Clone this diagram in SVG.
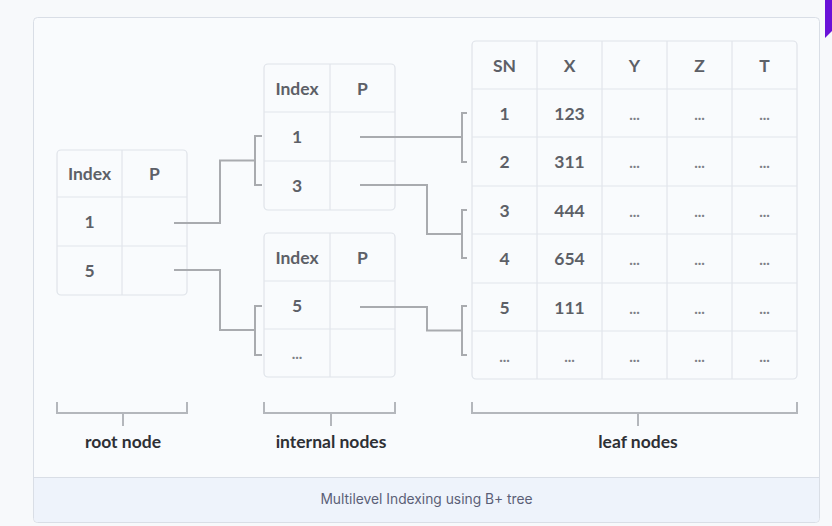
<svg xmlns="http://www.w3.org/2000/svg" width="832" height="526" viewBox="0 0 832 526">
<style>
.tbl{fill:#f9fbfd;stroke:#dfe3e9;stroke-width:1.2}
.grid{stroke:#e1e5eb;stroke-width:1.2;fill:none}
.t{font-family:Lato,"Liberation Sans",sans-serif;font-weight:bold;font-size:17.5px;fill:#5d6067;text-anchor:middle;dominant-baseline:central}
.d{font-family:Lato,"Liberation Sans",sans-serif;font-weight:bold;font-size:15px;fill:#7d8087;text-anchor:middle}
.c{stroke:#a9abaf;stroke-width:2;fill:none}
.b{stroke:#b4b7bc;stroke-width:2;fill:none}
.lbl{font-family:Lato,"Liberation Sans",sans-serif;font-weight:bold;font-size:17.5px;fill:#2e3035;text-anchor:middle}
</style>
<rect x="0" y="0" width="832" height="526" fill="#f7f9fb"/>
<polygon points="825,0 832,0 832,31 825,38" fill="#6a12d8"/>
<rect x="33.5" y="17.5" width="786" height="505" rx="4" fill="#f9fbfd" stroke="#d9dee6"/>
<path d="M34,477.5 H819 V518 a4,4 0 0 1 -4,4 H38 a4,4 0 0 1 -4,-4 Z" fill="#eef3fb"/>
<line x1="34" y1="477.5" x2="819" y2="477.5" stroke="#d9dee6"/>
<text x="426.5" y="504" font-family="Inter,'Liberation Sans',sans-serif" font-size="13.8" fill="#5b5f77" text-anchor="middle">Multilevel Indexing using B+ tree</text>

<g id="root-node">
<rect class="tbl" x="57" y="150" width="130" height="145" rx="4"/>
<path class="grid" d="M122,150V295M57,197H187M57,246H187"/>
<text class="t" x="89.5" y="173.5">Index</text><text class="t" x="154.5" y="173.5">P</text>
<text class="t" x="89.5" y="221.5">1</text>
<text class="t" x="89.5" y="270.5">5</text>
</g>

<g id="internal-node-1">
<rect class="tbl" x="264" y="64" width="131" height="146" rx="4"/>
<path class="grid" d="M330,64V210M264,112H395M264,161H395"/>
<text class="t" x="297" y="88">Index</text><text class="t" x="362.5" y="88">P</text>
<text class="t" x="297" y="136.5">1</text>
<text class="t" x="297" y="185.5">3</text>
</g>

<g id="internal-node-2">
<rect class="tbl" x="264" y="233" width="131" height="144" rx="4"/>
<path class="grid" d="M330,233V377M264,281H395M264,329H395"/>
<text class="t" x="297" y="257">Index</text><text class="t" x="362.5" y="257">P</text>
<text class="t" x="297" y="305">5</text>
<text class="d" x="297" y="359">...</text>
</g>

<g id="leaf-nodes">
<rect class="tbl" x="472" y="41" width="325" height="338" rx="4"/>
<path class="grid" d="M537,41V379M602,41V379M667,41V379M732,41V379M472,89H797M472,137H797M472,186H797M472,234H797M472,283H797M472,331H797"/>
<text class="t" x="504.5" y="65">SN</text><text class="t" x="569.5" y="65">X</text><text class="t" x="634.5" y="65">Y</text><text class="t" x="699.5" y="65">Z</text><text class="t" x="764.5" y="65">T</text>
<text class="t" x="504.5" y="113">1</text><text class="t" x="569.5" y="113">123</text>
<text class="d" x="634.5" y="120">...</text><text class="d" x="699.5" y="120">...</text><text class="d" x="764.5" y="120">...</text>
<text class="t" x="504.5" y="161.5">2</text><text class="t" x="569.5" y="161.5">311</text>
<text class="d" x="634.5" y="168">...</text><text class="d" x="699.5" y="168">...</text><text class="d" x="764.5" y="168">...</text>
<text class="t" x="504.5" y="210">3</text><text class="t" x="569.5" y="210">444</text>
<text class="d" x="634.5" y="217">...</text><text class="d" x="699.5" y="217">...</text><text class="d" x="764.5" y="217">...</text>
<text class="t" x="504.5" y="258.5">4</text><text class="t" x="569.5" y="258.5">654</text>
<text class="d" x="634.5" y="265">...</text><text class="d" x="699.5" y="265">...</text><text class="d" x="764.5" y="265">...</text>
<text class="t" x="504.5" y="307">5</text><text class="t" x="569.5" y="307">111</text>
<text class="d" x="634.5" y="314">...</text><text class="d" x="699.5" y="314">...</text><text class="d" x="764.5" y="314">...</text>
<text class="d" x="504.5" y="362">...</text><text class="d" x="569.5" y="362">...</text><text class="d" x="634.5" y="362">...</text><text class="d" x="699.5" y="362">...</text><text class="d" x="764.5" y="362">...</text>
</g>

<g id="connectors">
<path class="c" d="M174,223H220V160.5H255"/>
<path class="c" d="M262,136H255V185H262"/>
<path class="c" d="M174,270H220V330H255"/>
<path class="c" d="M262,306H255V355H262"/>
<path class="c" d="M360,137H462"/>
<path class="c" d="M467,113H462V162H467"/>
<path class="c" d="M360,185H427V234H462"/>
<path class="c" d="M467,210H462V258H467"/>
<path class="c" d="M360,307H427V330.5H462"/>
<path class="c" d="M467,306H462V355H467"/>
</g>

<g id="group-labels">
<path class="b" d="M57,402V413H187V402M123,413V426"/>
<path class="b" d="M264,402V413H395V402M331,413V426"/>
<path class="b" d="M472,402V413H797V402M638,413V426"/>
<text class="lbl" x="123" y="448">root node</text>
<text class="lbl" x="331" y="448">internal nodes</text>
<text class="lbl" x="638" y="448">leaf nodes</text>
</g>
</svg>
